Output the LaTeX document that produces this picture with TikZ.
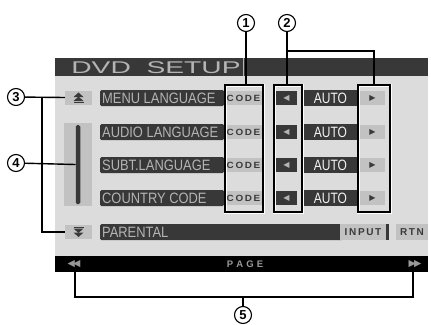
\documentclass[tikz,border=0pt]{standalone}
\usepackage{fontspec}
\setmainfont{Liberation Sans}
\newfontfamily\djv{DejaVu Sans}
\definecolor{scrbg}{HTML}{DCDCDC}
\definecolor{bardk}{HTML}{383838}
\definecolor{bartx}{HTML}{B4B4B4}
\definecolor{btnlt}{HTML}{C2C2C2}
\definecolor{btntx}{HTML}{3A3A3A}
\begin{document}
\begin{tikzpicture}[x=1pt,y=-1pt,
  lbl/.style={fill=bardk,rounded corners=1.5pt,inner sep=0pt},
  lbltext/.style={text=bartx,font=\fontsize{15}{15}\selectfont,xscale=0.86,anchor=west,inner sep=0pt},
  codetext/.style={text=btntx,font=\bfseries\fontsize{9}{9}\selectfont,inner sep=0pt},
  call/.style={draw=black,line width=1.5pt},
  num/.style={circle,draw=black,line width=1.1pt,minimum size=17pt,inner sep=0pt,font=\bfseries\fontsize{13}{13}\selectfont},
  conn/.style={draw=black,line width=1.4pt}]
\useasboundingbox (0,0) rectangle (431,324);
% screen
\fill[scrbg] (55,58) rectangle (428,272);
\fill[bardk] (55,58) rectangle (428,76);
\draw[bartx,line width=0.8pt] (243,58) -- (243,76);
\node[text=bartx,font=\fontsize{17}{17}\selectfont,xscale=1.66,anchor=west,inner sep=0pt] (title) at (71,67.5) {DVD\ \ SETUP};
% rows
\foreach \r/\t [count=\i] in {98/MENU LANGUAGE,132/AUDIO LANGUAGE,165/SUBT.LANGUAGE,198/COUNTRY CODE}{
  \fill[lbl] (100,\r-8) rectangle (224,\r+8);
  \node[lbltext] (lab\i) at (102,\r+0.5) {\t};
  \fill[btnlt] (225,\r-7) rectangle (262,\r+7);
  \node[codetext,xscale=1.1] (code\i) at (243.5,\r+0.5) {C\,O\,D\,E};
  \fill[bardk] (276,\r-7) rectangle (297,\r+7);
  \node[text=bartx,font=\djv\fontsize{8}{8}\selectfont,inner sep=0pt] (la\i) at (286.5,\r) {◀};
  \fill[bardk] (304,\r-8) rectangle (357,\r+8);
  \node[text=white!90!gray,font=\fontsize{15}{15}\selectfont,xscale=0.8,inner sep=0pt] (auto\i) at (330.5,\r+0.5) {AUTO};
  \fill[btnlt] (360,\r-7) rectangle (385,\r+7);
  \node[text=btntx,font=\djv\fontsize{8}{8}\selectfont,inner sep=0pt] (ra\i) at (372.5,\r) {▶};
}
% parental row
\fill[lbl] (100,224) rectangle (343,240);
\node[lbltext] (lab5) at (102,232.5) {PARENTAL};
\fill[btnlt] (340,224) rectangle (388,240);
\fill[bardk] (386,224) rectangle (389,240);
\node[codetext,font=\bfseries\fontsize{10}{10}\selectfont] (input) at (363,232.5) {I\,N\,P\,U\,T};
\fill[btnlt] (396,224) rectangle (428,240);
\node[codetext,font=\bfseries\fontsize{10}{10}\selectfont] (rtn) at (412,232.5) {R\,T\,N};
% up/down buttons
\node[fill=btnlt,minimum width=27pt,minimum height=14pt,inner sep=0pt] (up) at (78.5,97.5) {};
\fill[btntx] (73.5,97) -- (78.5,92.5) -- (83.5,97) -- cycle;
\fill[btntx] (73.5,101) -- (78.5,96.5) -- (83.5,101) -- cycle;
\fill[btntx] (73.5,101.5) rectangle (83.5,103);
\node[fill=btnlt,minimum width=27pt,minimum height=14pt,inner sep=0pt] (down) at (78.5,232) {};
\fill[btntx] (73.5,226.5) rectangle (83.5,228);
\fill[btntx] (73.5,228.5) -- (78.5,233) -- (83.5,228.5) -- cycle;
\fill[btntx] (73.5,232.5) -- (78.5,237) -- (83.5,232.5) -- cycle;
% scrollbar
\fill[btnlt] (64,123) rectangle (92,206);
\node[fill=bardk,rounded corners=1.5pt,minimum width=4.5pt,minimum height=79pt,inner sep=0pt] (thumb) at (78,164.5) {};
% bottom band
\fill[black] (55,256) rectangle (428,272);
\node[text=gray!80,font=\bfseries\fontsize{9.5}{9.5}\selectfont,inner sep=0pt] (page) at (245,264) {P\,\,A\,\,G\,\,E};
\node[text=gray!80,font=\djv\fontsize{9.5}{9.5}\selectfont,inner sep=0pt] (prev) at (74,264) {◀\kern-2pt◀};
\node[text=gray!80,font=\djv\fontsize{9.5}{9.5}\selectfont,inner sep=0pt] (next) at (415,264) {▶\kern-2pt▶};
% callout boxes
\draw[white,line width=3pt] (225,85) rectangle (263,212);
\draw[white,line width=3pt] (274,85) rectangle (302,212);
\draw[white,line width=3pt] (358,85) rectangle (390,212);
\node[call,minimum width=38pt,minimum height=127pt,inner sep=0pt] (b1) at (244,148.5) {};
\node[call,minimum width=28pt,minimum height=127pt,inner sep=0pt] (b2a) at (288,148.5) {};
\node[call,minimum width=32pt,minimum height=127pt,inner sep=0pt] (b2b) at (374,148.5) {};
% numbers
\node[num] (n1) at (246,23) {1};
\node[num] (n2) at (287,23) {2};
\node[num] (n3) at (16,97) {3};
\node[num] (n4) at (16,163) {4};
\node[num] (n5) at (243,315) {5};
\coordinate (j2) at (287,51);
\coordinate (j2r) at (374,51);
\coordinate (j3) at (42,97);
\coordinate (j3b) at (42,232);
\coordinate (j5) at (243,297);
\coordinate (j5l) at (75,297);
\coordinate (j5r) at (413,297);
\coordinate (e5l) at (75,272);
\coordinate (e5r) at (413,272);
% connectors
\draw[conn] (n1) -- (n1 |- b1.north);
\draw[conn] (n2) -- (n2 |- b2a.north);
\draw[conn] (j2) -- (j2r) -- (b2b.north);
\draw[conn] (n3) -- (up.west);
\draw[conn] (j3) -- (j3b) -- (down.west);
\draw[conn] (n4) -- (thumb.west);
\draw[conn] (n5) -- (j5);
\draw[conn] (e5l) -- (j5l) -- (j5r) -- (e5r);
\end{tikzpicture}
\end{document}
